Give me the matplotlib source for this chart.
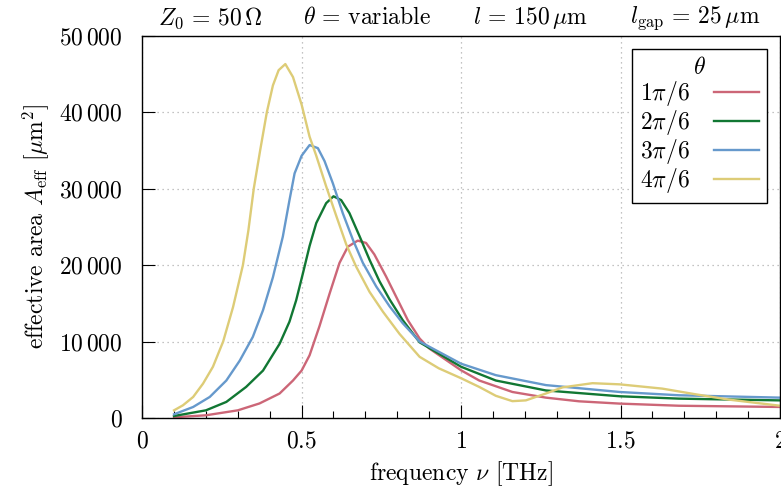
import matplotlib
matplotlib.use("Agg")
import matplotlib.pyplot as plt
from matplotlib.ticker import FuncFormatter, MultipleLocator

plt.rcParams['font.family'] = ['cmr10', 'DejaVu Serif']
plt.rcParams['mathtext.fontset'] = 'cm'
plt.rcParams['axes.unicode_minus'] = False
plt.rcParams['font.size'] = 17

# theta = 1pi/6
f_1 = [0.1, 0.2, 0.3, 0.368, 0.431, 0.473, 0.5, 0.525, 0.556, 0.588, 0.619, 0.645, 0.676, 0.702,
       0.728, 0.765, 0.796, 0.833, 0.87, 0.9, 1.0, 1.057, 1.161, 1.266, 1.37, 1.497, 1.683, 2.0]
a_1 = [90, 350, 1000, 1900, 3200, 4900, 6200, 8200, 12000, 16300, 20300, 22400, 23200, 22900,
       21400, 18500, 15900, 12800, 10400, 9100, 6240, 4900, 3400, 2660, 2180, 1880, 1600, 1440]

# theta = 2pi/6
f_2 = [0.1, 0.2, 0.264, 0.326, 0.379, 0.431, 0.462, 0.483, 0.504, 0.525, 0.546, 0.577, 0.6, 0.624,
       0.65, 0.682, 0.713, 0.744, 0.776, 0.817, 0.87, 1.0, 1.109, 1.266, 1.497, 1.683, 2.0]
a_2 = [260, 1000, 2100, 4060, 6200, 9700, 12600, 15400, 18900, 22500, 25500, 28100, 29000, 28500,
       26800, 23750, 20700, 17900, 15500, 12800, 9900, 6700, 4900, 3600, 2840, 2530, 2300]

# theta = 3pi/6
f_3 = [0.1, 0.16, 0.212, 0.264, 0.306, 0.347, 0.379, 0.41, 0.441, 0.462, 0.478, 0.5, 0.525, 0.551,
       0.572, 0.598, 0.629, 0.661, 0.692, 0.734, 0.776, 0.817, 0.87, 1.0, 1.109, 1.266, 1.497,
       1.683, 2.0]
a_3 = [480, 1440, 2750, 4900, 7500, 10600, 14100, 18400, 23700, 28500, 32000, 34300, 35700, 35300,
       33600, 30700, 26800, 23300, 20300, 17200, 14600, 12400, 10000, 7100, 5600, 4300, 3400,
       2970, 2660]

# theta = 4pi/6
f_4 = [0.1, 0.128, 0.16, 0.191, 0.222, 0.254, 0.285, 0.316, 0.333, 0.35, 0.37, 0.391, 0.41,
       0.428, 0.449, 0.473, 0.5, 0.525, 0.546, 0.577, 0.609, 0.64, 0.671, 0.713, 0.755,
       0.807, 0.87, 0.93, 1.0, 1.057, 1.109, 1.161, 1.203, 1.266, 1.318, 1.412, 1.497, 1.631,
       1.735, 1.84, 2.0]
a_4 = [1000, 1660, 2750, 4500, 6700, 10000, 14500, 20000, 24500, 30000, 35000, 40000, 43500,
       45500, 46300, 44600, 41000, 36800, 34300, 30300, 26400, 22700, 19800, 16500, 13900,
       11000, 8000, 6500, 5200, 4060, 2900, 2200, 2300, 3200, 4000, 4550, 4400, 3840, 3100, 2400,
       1600]

series = [(f_1, a_1), (f_2, a_2), (f_3, a_3), (f_4, a_4)]
labels = [r'$1\pi/6$', r'$2\pi/6$', r'$3\pi/6$', r'$4\pi/6$']
colors = ['#CC6677', '#117733', '#6699CC', '#DDCC77']

fig = plt.figure(figsize=(7.81, 4.90), dpi=100)
ax = fig.add_axes([0.182, 0.147, 0.8167, 0.780])

for (f, a), lab, c in zip(series, labels, colors):
    ax.plot(f, a, color=c, lw=1.7, label=lab)

ax.set_xlim(0, 2)
ax.set_ylim(0, 50000)
ax.xaxis.set_major_locator(MultipleLocator(0.5))
ax.xaxis.set_minor_locator(MultipleLocator(0.1))
ax.yaxis.set_major_locator(MultipleLocator(10000))

def xfmt(v, pos):
    return r'$%g$' % v

def yfmt(v, pos):
    n = int(round(v))
    if n == 0:
        return r'$0$'
    return r'$%d\,%03d$' % (n // 1000, n % 1000)

ax.xaxis.set_major_formatter(FuncFormatter(xfmt))
ax.yaxis.set_major_formatter(FuncFormatter(yfmt))
ax.tick_params(which='major', direction='in', length=9.5, width=0.8, top=False, right=False,
               labelsize=17)
ax.tick_params(axis='x', which='major', pad=9)
ax.tick_params(axis='y', which='major', pad=14)
ax.tick_params(which='minor', direction='in', length=4.8, width=0.8, top=False, right=False)
for s in ax.spines.values():
    s.set_linewidth(1.0)

ax.grid(True, which='major', color='#b0b0b0', linestyle=(0, (1, 3)), linewidth=0.9)

ax.set_xlabel(r'frequency $\nu$ [THz]', fontsize=17, labelpad=5)
ax.set_ylabel(r'effective area $A_\mathrm{eff}$ [$\mu$m$^2$]', fontsize=17, labelpad=6)

leg = ax.legend(title=r'$\theta$', loc='upper right', markerfirst=False, frameon=True,
                fancybox=False, edgecolor='black', framealpha=1, fontsize=17,
                title_fontsize=17, handlelength=1.9, borderaxespad=0.55,
                labelspacing=0.0, handletextpad=1.0, borderpad=0.35)
leg.get_frame().set_linewidth(1.0)

ty = 0.963
fig.text(0.269, ty, r'$Z_0\,=\,50\,\Omega$', ha='center', va='center', fontsize=17)
fig.text(0.47, ty, r'$\theta\,=\,$variable', ha='center', va='center', fontsize=17)
fig.text(0.679, ty, r'$l\,=\,150\,\mu$m', ha='center', va='center', fontsize=17)
fig.text(0.89, ty, r'$l_\mathrm{gap}\,=\,25\,\mu$m', ha='center', va='center', fontsize=17)

fig.savefig('out.png', dpi=100)
